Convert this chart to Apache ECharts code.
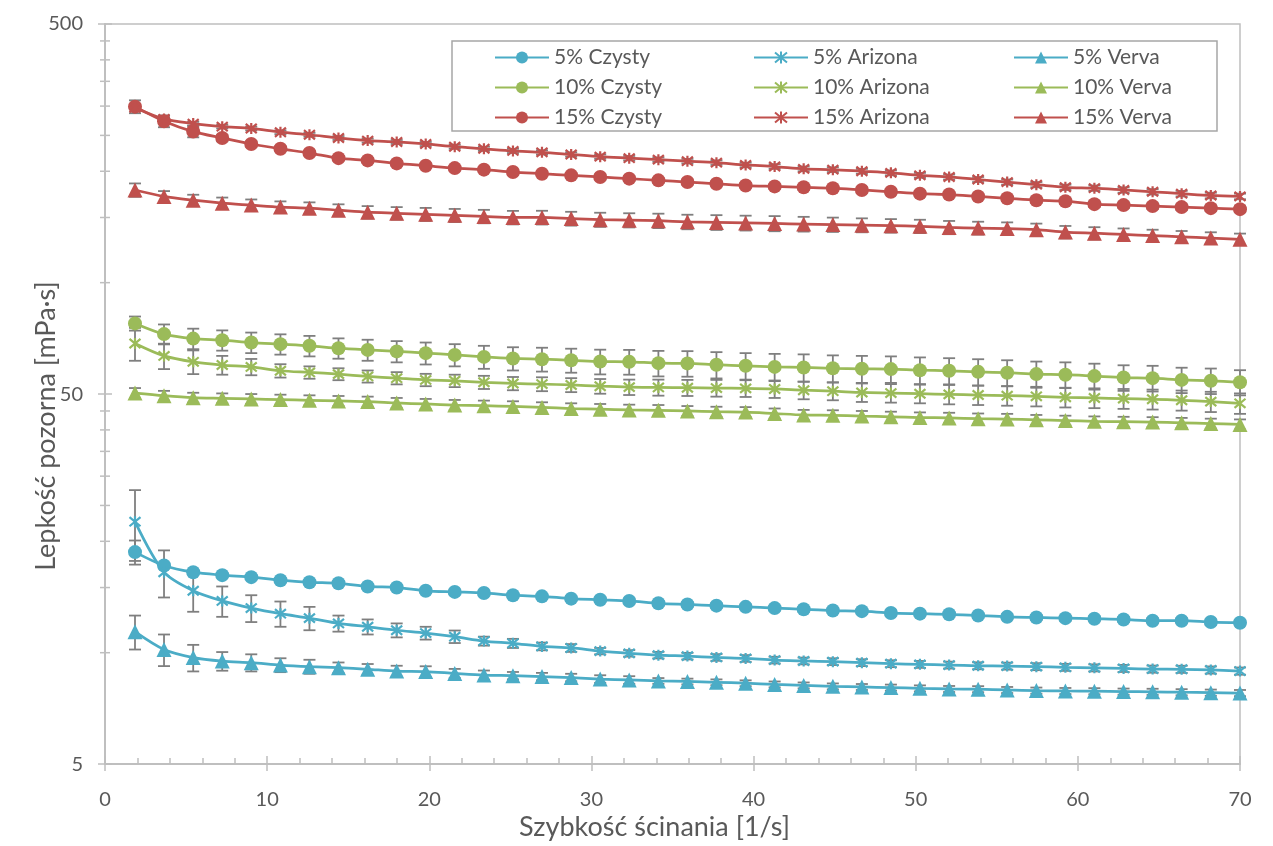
<!DOCTYPE html>
<html>
<head>
<meta charset="utf-8">
<title>Lepkość pozorna</title>
<script src="https://cdn.jsdelivr.net/npm/echarts@6.0.0/dist/echarts.min.js"></script>
<style>
  html, body { margin: 0; padding: 0; background: #fff; }
  #chart { width: 1273px; height: 846px; }
</style>
</head>
<body>
<div id="chart"></div>
<script>
  // shear rate [1/s]
  const shear = [1.85, 3.64, 5.44, 7.23, 9.02, 10.82, 12.61, 14.40, 16.20, 17.99, 19.78, 21.57, 23.37,
    25.16, 26.95, 28.75, 30.54, 32.33, 34.13, 35.92, 37.71, 39.51, 41.30, 43.09, 44.89, 46.68,
    48.47, 50.26, 52.06, 53.85, 55.64, 57.44, 59.23, 61.02, 62.82, 64.61, 66.40, 68.20, 70.00]

  // apparent viscosity [mPa·s]
  const czysty5 = [18.7, 17.2, 16.5, 16.2, 16.0, 15.7, 15.5, 15.4, 15.1, 15.0, 14.7, 14.6, 14.5,
    14.3, 14.2, 14.0, 13.9, 13.8, 13.6, 13.5, 13.4, 13.3, 13.2, 13.1, 13.0, 12.95, 12.8, 12.75,
    12.7, 12.6, 12.5, 12.45, 12.4, 12.35, 12.3, 12.2, 12.2, 12.1, 12.05]
  const arizona5 = [22.6, 16.5, 14.7, 13.8, 13.2, 12.75, 12.4, 12.0, 11.75, 11.5, 11.3, 11.05, 10.75,
    10.6, 10.4, 10.3, 10.1, 9.96, 9.85, 9.79, 9.71, 9.65, 9.55, 9.5, 9.46, 9.4, 9.34, 9.3,
    9.26, 9.22, 9.2, 9.17, 9.13, 9.1, 9.07, 9.03, 9.02, 8.98, 8.92]
  const verva5 = [11.4, 10.2, 9.70, 9.49, 9.4, 9.26, 9.17, 9.11, 9.02, 8.92, 8.89, 8.79, 8.70,
    8.67, 8.62, 8.57, 8.49, 8.44, 8.39, 8.36, 8.32, 8.27, 8.21, 8.16, 8.11, 8.08, 8.05, 8.01,
    7.98, 7.97, 7.93, 7.9, 7.88, 7.87, 7.85, 7.84, 7.82, 7.80, 7.78]
  const czysty10 = [77.6, 72.6, 70.6, 69.9, 68.9, 68.2, 67.5, 66.5, 65.8, 65.2, 64.5, 63.8, 63.0,
    62.4, 62.1, 61.7, 61.2, 61.1, 60.6, 60.5, 60.0, 59.6, 59.2, 59.0, 58.7, 58.5, 58.4, 58.0,
    57.8, 57.4, 57.1, 56.6, 56.4, 55.9, 55.4, 55.2, 54.6, 54.3, 53.8]
  const arizona10 = [68.5, 63.4, 61.1, 59.9, 59.2, 57.8, 57.2, 56.6, 55.8, 55.2, 54.6, 54.3, 53.8,
    53.4, 53.2, 52.9, 52.5, 52.2, 52.1, 52.0, 51.9, 51.8, 51.6, 51.2, 50.9, 50.5, 50.3, 50.1,
    49.9, 49.7, 49.5, 49.3, 49.0, 48.8, 48.6, 48.4, 48.1, 47.7, 47.2]
  const verva10 = [50.3, 49.5, 48.9, 48.7, 48.5, 48.3, 48.1, 47.9, 47.7, 47.3, 47.0, 46.7, 46.5,
    46.3, 46.0, 45.7, 45.5, 45.3, 45.2, 45.0, 44.8, 44.7, 44.3, 43.9, 43.8, 43.6, 43.4, 43.2,
    43.1, 42.9, 42.8, 42.6, 42.4, 42.2, 42.1, 42.0, 41.8, 41.6, 41.4]
  const czysty15 = [299, 273, 256, 246, 237, 230, 224, 217, 214, 210, 207, 204, 202,
    199, 197, 195, 193, 191, 189, 187, 185, 183, 182, 181, 180, 178, 176, 174,
    173, 171, 169, 167, 166, 163, 162, 161, 160, 159, 158]
  const arizona15 = [297, 277, 269, 264, 261, 255, 251, 246, 242, 240, 237, 233, 230,
    227, 225, 222, 219, 217, 215, 213, 211, 208, 206, 203, 202, 200, 198, 195,
    193, 190, 187, 184, 181, 180, 178, 176, 174, 172, 171]
  const verva15 = [178, 171, 167, 164, 162, 160, 159, 157, 155, 154, 153, 152, 151,
    150, 150, 149, 148, 147.5, 147, 146, 145.5, 145, 144.5, 144, 143.5, 143, 142.5, 142,
    141, 140.5, 140, 139, 137, 136, 135, 134, 133, 132, 131]

  // standard deviations
  const czysty5Err = [1.4, 0.3, 0.2, 0.2, 0.2, 0.2, 0.2, 0.2, 0.2, 0.2, 0.2, 0.2, 0.2,
    0.2, 0.2, 0.2, 0.2, 0.2, 0.2, 0.2, 0.2, 0.2, 0.2, 0.2, 0.2, 0.2, 0.2, 0.2,
    0.2, 0.2, 0.2, 0.2, 0.2, 0.2, 0.2, 0.2, 0.2, 0.2, 0.2]
  const arizona5Err = [4.9, 2.4, 1.8, 1.3, 1.1, 1.0, 0.9, 0.6, 0.55, 0.5, 0.45, 0.43, 0.3,
    0.3, 0.25, 0.25, 0.2, 0.2, 0.2, 0.2, 0.2, 0.2, 0.2, 0.2, 0.2, 0.2, 0.2, 0.2,
    0.2, 0.2, 0.2, 0.2, 0.2, 0.2, 0.2, 0.2, 0.2, 0.2, 0.2]
  const verva5Err = [1.2, 1.0, 0.8, 0.55, 0.5, 0.4, 0.4, 0.3, 0.3, 0.3, 0.3, 0.25, 0.25,
    0.2, 0.2, 0.2, 0.2, 0.2, 0.15, 0.15, 0.15, 0.15, 0.15, 0.15, 0.15, 0.15, 0.15, 0.15,
    0.15, 0.15, 0.15, 0.15, 0.15, 0.15, 0.15, 0.15, 0.15, 0.15, 0.15]
  const czysty10Err = [3.4, 4.5, 4.5, 4.4, 4.4, 4.3, 4.3, 4.2, 4.3, 4.3, 4.4, 4.4, 4.5,
    4.5, 4.6, 4.6, 4.7, 4.7, 4.8, 4.8, 4.9, 4.9, 5.0, 5.0, 4.9, 4.9, 4.8, 4.8,
    4.7, 4.7, 4.6, 4.6, 4.5, 4.5, 4.4, 4.4, 4.3, 4.3, 4.2]
  const arizona10Err = [7.0, 5.0, 4.5, 3.5, 3.0, 2.4, 2.2, 2.1, 2.1, 2.1, 2.1, 2.1, 2.2,
    2.2, 2.3, 2.3, 2.4, 2.5, 2.6, 2.6, 2.7, 2.7, 2.8, 2.8, 2.8, 2.9, 2.9, 2.9,
    3.0, 3.0, 3.0, 3.0, 3.0, 3.0, 3.0, 3.0, 3.0, 3.0, 3.0]
  const verva10Err = [1.6, 1.5, 1.5, 1.5, 1.5, 1.5, 1.5, 1.5, 1.5, 1.5, 1.5, 1.5, 1.5,
    1.5, 1.5, 1.5, 1.5, 1.5, 1.5, 1.4, 1.4, 1.4, 1.4, 1.4, 1.4, 1.4, 1.4, 1.4,
    1.4, 1.4, 1.4, 1.3, 1.3, 1.3, 1.3, 1.3, 1.3, 1.3, 1.3]
  const czysty15Err = [12, 10, 9, 5, 4, 3.5, 3, 3, 3, 3, 3, 3, 3,
    3, 3, 3, 3, 3, 3, 3, 3, 3, 3, 3, 3, 3, 3, 3,
    3, 3, 3, 3, 3, 3, 3, 3, 3, 3, 3]
  const arizona15Err = [3, 3, 3, 3, 3, 3, 3, 3, 3, 3, 3, 3, 3,
    3, 3, 3, 3, 3, 3, 3, 3, 3, 3, 3, 3, 3, 3, 3,
    3, 3, 3, 3, 3, 3, 3, 3, 3, 3, 3]
  const verva15Err = [7.4, 5.8, 5.8, 5.8, 5.8, 5.8, 5.8, 5.8, 6.0, 6.0, 6.2, 6.2, 6.3,
    6.3, 6.4, 6.4, 6.5, 6.5, 6.6, 6.6, 6.7, 6.7, 6.8, 6.6, 6.4, 6.2, 6.0, 5.9,
    5.8, 5.6, 5.5, 5.4, 5.3, 5.2, 5.1, 5.0, 4.9, 4.8, 4.7]

  const yTickLabels = ['5', '50', '500']
  const yMinorTicks = [10, 15, 20, 25, 30, 35, 40, 45, 100, 150, 200, 250, 300, 350, 400, 450]

  const cyan = '#4bacc6'
  const green = '#9bbb59'
  const red = '#c0504d'
  const axisGrey = '#bfbfbf'
  const textGrey = '#595959'
  const font = 'Lato'
  const star = 'path://M0,0L10,10M10,0L0,10M5,-1L5,11'

  const seriesDefs = [
    { name: '5% Czysty', data: czysty5, err: czysty5Err, color: cyan, symbol: 'circle' },
    { name: '5% Arizona', data: arizona5, err: arizona5Err, color: cyan, symbol: star },
    { name: '5% Verva', data: verva5, err: verva5Err, color: cyan, symbol: 'triangle' },
    { name: '10% Czysty', data: czysty10, err: czysty10Err, color: green, symbol: 'circle' },
    { name: '10% Arizona', data: arizona10, err: arizona10Err, color: green, symbol: star },
    { name: '10% Verva', data: verva10, err: verva10Err, color: green, symbol: 'triangle' },
    { name: '15% Czysty', data: czysty15, err: czysty15Err, color: red, symbol: 'circle' },
    { name: '15% Arizona', data: arizona15, err: arizona15Err, color: red, symbol: star },
    { name: '15% Verva', data: verva15, err: verva15Err, color: red, symbol: 'triangle' }
  ]

  function renderErrorBar(params, api) {
    const x = api.value(0)
    const y = api.value(1)
    const e = api.value(2)
    const top = api.coord([x, y + e])
    const bot = api.coord([x, y - e])
    const w = 6
    const st = { stroke: '#7f7f7f', lineWidth: 1.8 }
    return {
      type: 'group',
      children: [
        { type: 'line', shape: { x1: top[0], y1: top[1], x2: bot[0], y2: bot[1] }, style: st },
        { type: 'line', shape: { x1: top[0] - w, y1: top[1], x2: top[0] + w, y2: top[1] }, style: st },
        { type: 'line', shape: { x1: bot[0] - w, y1: bot[1], x2: bot[0] + w, y2: bot[1] }, style: st }
      ]
    }
  }

  const series = []
  seriesDefs.forEach(function (s) {
    series.push({
      name: s.name + ' err',
      type: 'custom',
      renderItem: renderErrorBar,
      xAxisIndex: 0,
      yAxisIndex: 0,
      encode: { x: 0, y: 1 },
      data: shear.map(function (x, i) { return [x, s.data[i], s.err[i]] }),
      z: 1,
      silent: true
    })
  })
  seriesDefs.forEach(function (s) {
    const isStar = s.symbol === star
    series.push({
      name: s.name,
      type: 'line',
      xAxisIndex: 0,
      yAxisIndex: 0,
      smooth: 0.3,
      symbol: s.symbol,
      symbolSize: s.symbol === 'circle' ? 14 : (isStar ? 11 : 15),
      lineStyle: { color: s.color, width: 2.75 },
      itemStyle: { color: s.color, borderColor: s.color, borderWidth: isStar ? 2.2 : 0 },
      data: shear.map(function (x, i) { return [x, s.data[i]] }),
      z: 2
    })
  })

  function legendCol(names, left) {
    return {
      orient: 'vertical',
      left: left,
      top: 42,
      itemWidth: 54,
      itemHeight: 15,
      itemGap: 9,
      data: names,
      textStyle: { fontFamily: font, fontSize: 21, color: textGrey },
      z: 4
    }
  }

  const chart = echarts.init(document.getElementById('chart'))
  chart.setOption({
    animation: false,
    backgroundColor: '#fff',
    grid: { left: 105, right: 33, top: 24, bottom: 80, show: true, borderColor: axisGrey, borderWidth: 1.5 },
    legend: [
      legendCol(['5% Czysty', '10% Czysty', '15% Czysty'], 489),
      legendCol(['5% Arizona', '10% Arizona', '15% Arizona'], 748),
      legendCol(['5% Verva', '10% Verva', '15% Verva'], 1008)
    ],
    xAxis: [
      {
        type: 'value', position: 'bottom', min: 0, max: 70, interval: 10,
        name: 'Szybkość ścinania [1/s]', nameLocation: 'middle', nameGap: 47,
        nameTextStyle: { fontFamily: font, fontSize: 27, color: textGrey, padding: [0, 36, 0, 0] },
        axisLine: { lineStyle: { color: axisGrey, width: 2 } },
        axisTick: { length: 7, lineStyle: { color: axisGrey, width: 1.5 } },
        axisLabel: { fontFamily: font, fontSize: 20, color: textGrey, margin: 25 },
        splitLine: { show: false }
      },
      {
        type: 'value', position: 'bottom', min: 0, max: 70, interval: 10,
        axisLine: { show: false },
        axisTick: { inside: true, length: 8, lineStyle: { color: axisGrey, width: 1.5 } },
        minorTick: { show: true, splitNumber: 5, length: 6, lineStyle: { color: axisGrey, width: 1.5 } },
        axisLabel: { show: false },
        splitLine: { show: false }
      }
    ],
    yAxis: [
      {
        type: 'log', logBase: 10, min: 5, max: 500, position: 'left',
        name: 'Lepkość pozorna [mPa·s]', nameLocation: 'middle', nameGap: 45,
        nameTextStyle: { fontFamily: font, fontSize: 27, color: textGrey, padding: [0, 64, 0, 0] },
        axisLine: { lineStyle: { color: axisGrey, width: 2 } },
        axisTick: { show: false },
        axisLabel: { show: false },
        splitLine: { show: false }
      },
      {
        type: 'value', position: 'left', min: 0, max: 2, interval: 1,
        axisLine: { show: false },
        axisTick: { length: 7, lineStyle: { color: axisGrey, width: 1.5 } },
        axisLabel: {
          fontFamily: font, fontSize: 20, color: textGrey, margin: 22,
          formatter: function (v) { return yTickLabels[Math.round(v)] }
        },
        splitLine: { show: false }
      },
      {
        type: 'value', position: 'left', min: 0, max: 2, interval: 1,
        axisLine: { show: false },
        axisTick: { inside: true, length: 7, lineStyle: { color: axisGrey, width: 1.5 } },
        axisLabel: { show: false },
        splitLine: { show: false }
      }
    ],
    series: series
  })

  // minor ticks of the log axis, placed through the axis scale
  const axisX = chart.convertToPixel({ xAxisIndex: 0 }, 0)
  const graphics = [{
    type: 'rect', z: 3,
    shape: { x: 452, y: 41, width: 765, height: 90 },
    style: { fill: '#fff', stroke: '#a6a6a6', lineWidth: 1.5 }
  }]
  yMinorTicks.forEach(function (v) {
    const py = chart.convertToPixel({ yAxisIndex: 0 }, v)
    graphics.push({
      type: 'line', z: 3,
      shape: { x1: axisX - 5, y1: py, x2: axisX + 5, y2: py },
      style: { stroke: axisGrey, lineWidth: 1.5 }
    })
  })
  chart.setOption({ graphic: graphics })
</script>
</body>
</html>
